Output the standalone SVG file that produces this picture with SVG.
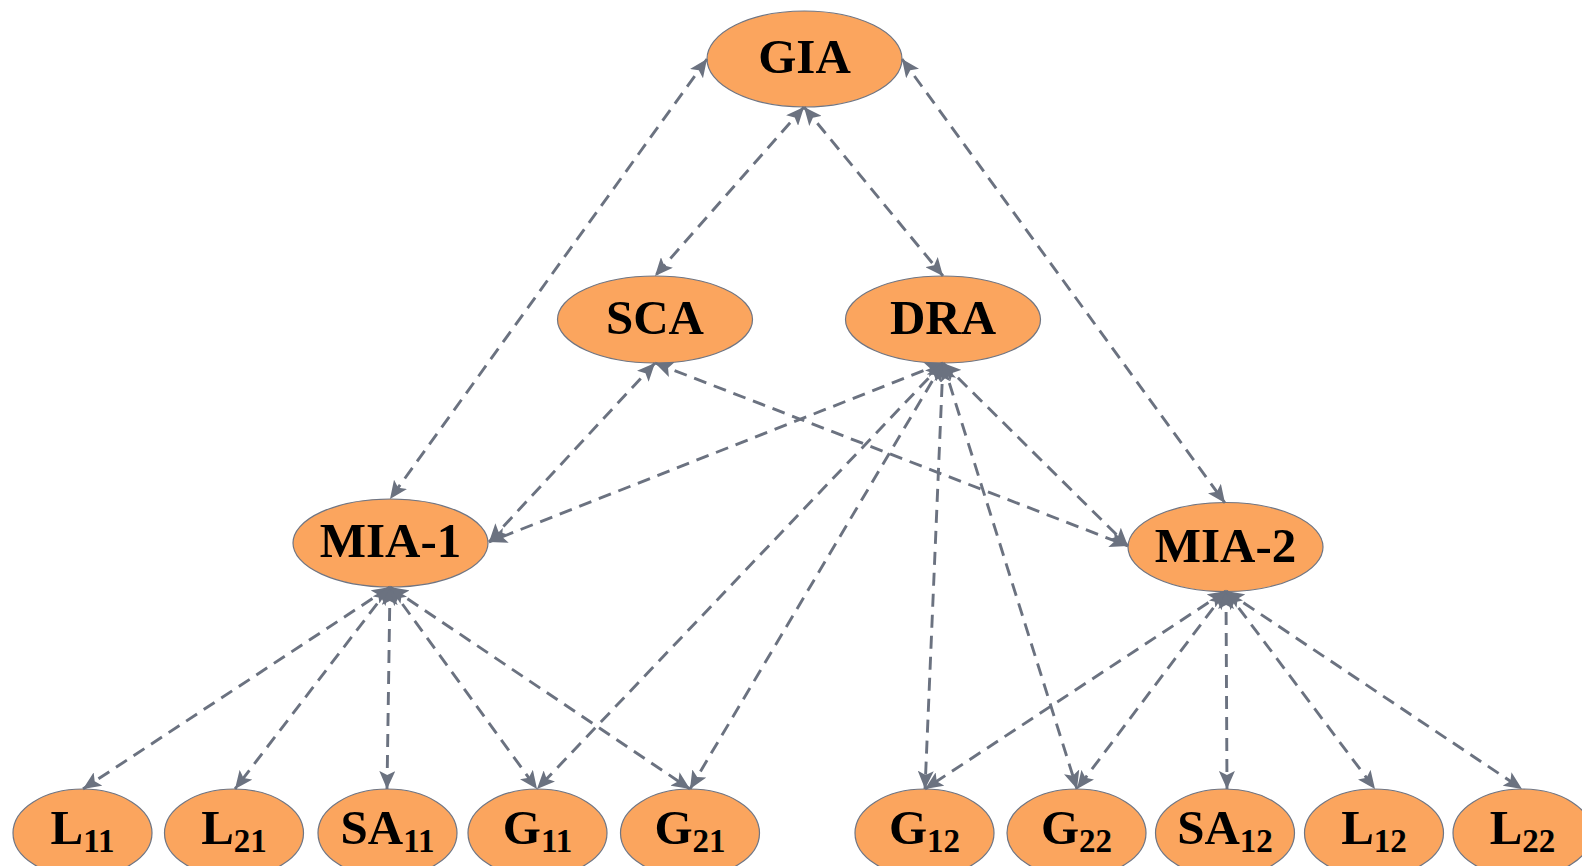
<svg xmlns="http://www.w3.org/2000/svg" width="1582" height="866" viewBox="0 0 1582 866">
<style>
.n{fill:#FBA55E;stroke:#6F7583;stroke-width:1.2}
.t{font-family:"Liberation Serif","Times New Roman",serif;font-weight:bold;font-size:49px;fill:#000;text-anchor:middle}
.s{font-size:33px}
.c line{stroke:#6B7280;stroke-width:2.9;stroke-dasharray:13 8;fill:none;marker-start:url(#ah);marker-end:url(#ah)}
</style>
<defs>
<marker id="ah" markerUnits="userSpaceOnUse" markerWidth="20" markerHeight="16" viewBox="0 0 20 16" refX="18" refY="8" orient="auto-start-reverse">
<path d="M0,0 L18,8 L0,16 L4,8 Z" fill="#6B7280"/>
</marker>
</defs>
<rect width="1582" height="866" fill="#fff"/>
<g id="GIA"><ellipse class="n" cx="804.5" cy="59" rx="97.5" ry="48"/><text class="t" x="804.5" y="73">GIA</text></g>
<g id="SCA"><ellipse class="n" cx="655" cy="319.5" rx="97.5" ry="43.5"/><text class="t" x="655" y="334">SCA</text></g>
<g id="DRA"><ellipse class="n" cx="943" cy="319.5" rx="97.5" ry="43.5"/><text class="t" x="943" y="334">DRA</text></g>
<g id="MIA-1"><ellipse class="n" cx="390.5" cy="543" rx="97.5" ry="44"/><text class="t" x="390.5" y="557">MIA-1</text></g>
<g id="MIA-2"><ellipse class="n" cx="1225.5" cy="547" rx="97.5" ry="44.5"/><text class="t" x="1225.5" y="562">MIA-2</text></g>
<g id="L11"><ellipse class="n" cx="82.5" cy="833" rx="69.5" ry="44"/><text class="t" x="82.5" y="844">L<tspan class="s" dy="8">11</tspan></text></g>
<g id="L21"><ellipse class="n" cx="234" cy="833" rx="69.5" ry="44"/><text class="t" x="234" y="844">L<tspan class="s" dy="8">21</tspan></text></g>
<g id="SA11"><ellipse class="n" cx="387.5" cy="833" rx="69.5" ry="44"/><text class="t" x="387.5" y="844">SA<tspan class="s" dy="8">11</tspan></text></g>
<g id="G11"><ellipse class="n" cx="537.5" cy="833" rx="69.5" ry="44"/><text class="t" x="537.5" y="844">G<tspan class="s" dy="8">11</tspan></text></g>
<g id="G21"><ellipse class="n" cx="690" cy="833" rx="69.5" ry="44"/><text class="t" x="690" y="844">G<tspan class="s" dy="8">21</tspan></text></g>
<g id="G12"><ellipse class="n" cx="924.5" cy="833" rx="69.5" ry="44"/><text class="t" x="924.5" y="844">G<tspan class="s" dy="8">12</tspan></text></g>
<g id="G22"><ellipse class="n" cx="1076.5" cy="833" rx="69.5" ry="44"/><text class="t" x="1076.5" y="844">G<tspan class="s" dy="8">22</tspan></text></g>
<g id="SA12"><ellipse class="n" cx="1225" cy="833" rx="69.5" ry="44"/><text class="t" x="1225" y="844">SA<tspan class="s" dy="8">12</tspan></text></g>
<g id="L12"><ellipse class="n" cx="1374" cy="833" rx="69.5" ry="44"/><text class="t" x="1374" y="844">L<tspan class="s" dy="8">12</tspan></text></g>
<g id="L22"><ellipse class="n" cx="1522.5" cy="833" rx="69.5" ry="44"/><text class="t" x="1522.5" y="844">L<tspan class="s" dy="8">22</tspan></text></g>
<g id="connectors" class="c">
<line x1="707" y1="59" x2="390" y2="499"/>
<line x1="804" y1="107" x2="655" y2="276"/>
<line x1="804" y1="107" x2="943" y2="276"/>
<line x1="902" y1="59" x2="1225" y2="503"/>
<line x1="655" y1="363" x2="489" y2="542"/>
<line x1="655" y1="363" x2="1128" y2="546"/>
<line x1="943" y1="363" x2="489" y2="542"/>
<line x1="943" y1="363" x2="1128" y2="546"/>
<line x1="943" y1="363" x2="537" y2="789"/>
<line x1="943" y1="363" x2="690" y2="789"/>
<line x1="943" y1="363" x2="925" y2="789"/>
<line x1="943" y1="363" x2="1077" y2="789"/>
<line x1="390" y1="587" x2="83" y2="789"/>
<line x1="390" y1="587" x2="235" y2="789"/>
<line x1="390" y1="587" x2="387" y2="789"/>
<line x1="390" y1="587" x2="537" y2="789"/>
<line x1="390" y1="587" x2="690" y2="789"/>
<line x1="1226" y1="591" x2="925" y2="789"/>
<line x1="1226" y1="591" x2="1077" y2="789"/>
<line x1="1226" y1="591" x2="1227" y2="789"/>
<line x1="1226" y1="591" x2="1375" y2="789"/>
<line x1="1226" y1="591" x2="1522" y2="789"/>
</g>
</svg>
